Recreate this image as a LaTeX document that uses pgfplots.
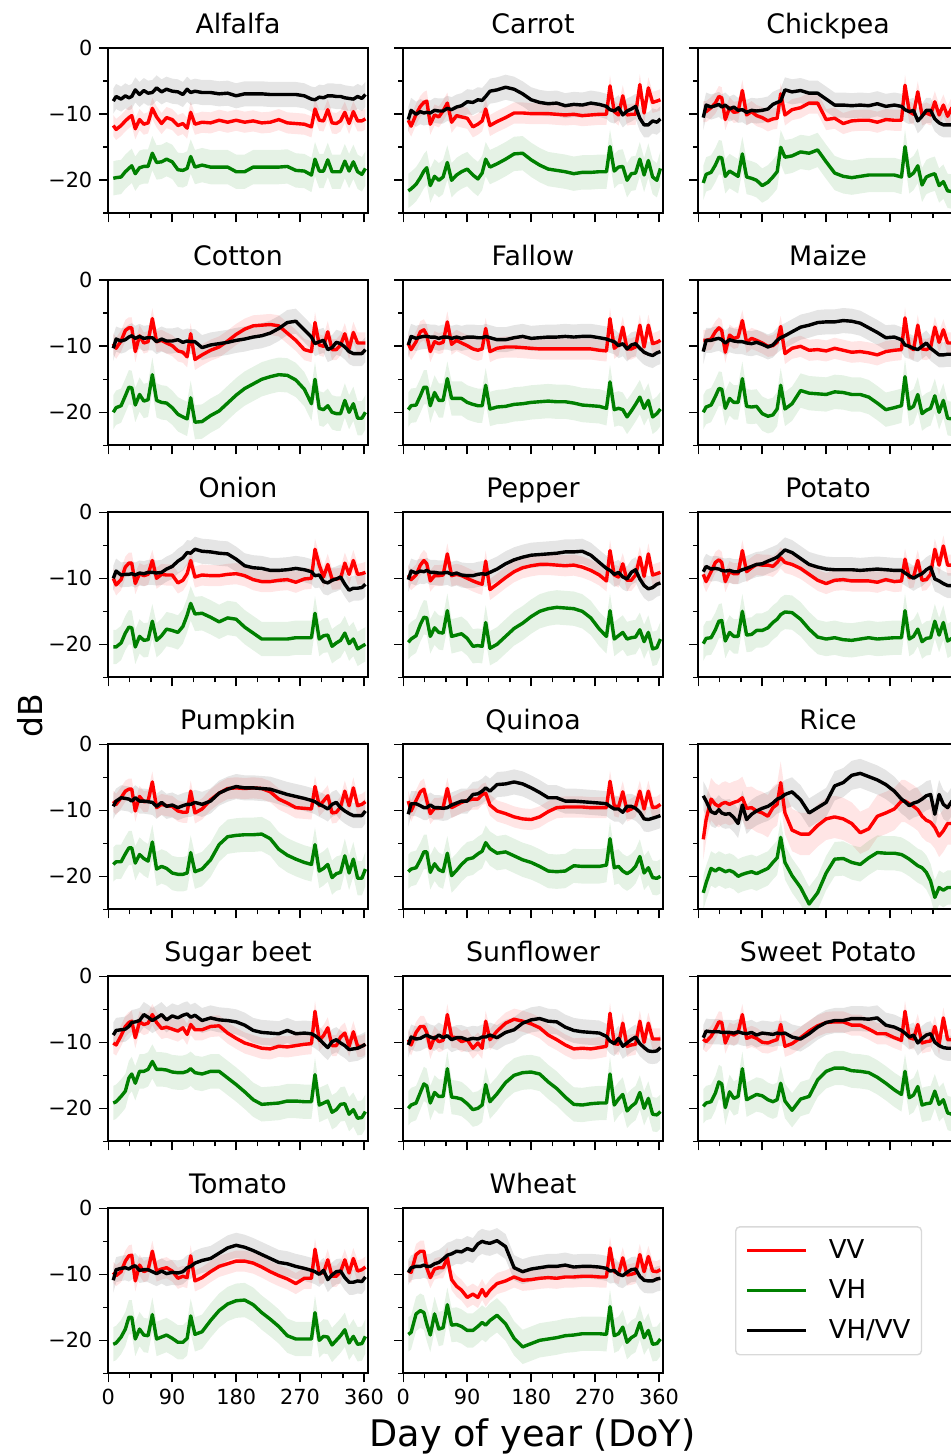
\documentclass[border=0pt]{standalone}
\usepackage{fontspec}
\setmainfont{DejaVu Sans}
\usepackage{pgfplots}
\pgfplotsset{compat=1.18}
\usepackage{pgfplotstable}
\usepgfplotslibrary{groupplots,fillbetween}
\definecolor{mplgreen}{rgb}{0,0.502,0}

\pgfplotstableread{
d vv vh r
7 -11.7 -19.7 -8.0
11 -12.3 -19.6 -7.3
18 -11.7 -19.5 -7.7
24 -11.0 -18.7 -7.2
29 -10.5 -18.2 -7.5
33 -10.2 -17.8 -7.3
38 -12.2 -19.0 -6.3
44 -10.8 -18.1 -7.0
50 -11.5 -17.9 -6.4
56 -11.3 -17.9 -6.8
62 -9.1 -15.9 -6.7
68 -10.4 -17.3 -6.0
75 -11.4 -17.2 -6.6
82 -10.5 -16.8 -6.2
90 -10.8 -17.2 -6.5
98 -11.7 -18.4 -6.6
105 -11.4 -18.5 -7.0
111 -12.1 -18.2 -6.2
116 -9.7 -16.4 -6.7
122 -11.5 -18.0 -6.5
132 -11.2 -17.7 -6.7
144 -11.3 -18.0 -6.7
156 -10.9 -18.0 -6.9
168 -11.2 -18.0 -6.8
180 -10.9 -18.7 -7.2
192 -11.2 -18.7 -6.9
204 -11.0 -18.0 -6.9
216 -11.3 -18.0 -6.9
228 -11.2 -18.0 -7.0
240 -10.8 -18.0 -7.0
252 -11.3 -17.9 -7.0
264 -11.4 -18.5 -7.0
276 -11.5 -18.6 -7.2
286 -11.9 -19.2 -7.7
291 -9.2 -16.8 -7.8
297 -10.9 -18.6 -7.4
303 -11.0 -18.6 -7.5
309 -9.3 -16.9 -7.2
315 -11.3 -18.7 -7.2
321 -11.4 -18.7 -7.3
327 -11.0 -18.7 -7.3
333 -9.7 -17.1 -7.5
339 -11.4 -18.6 -7.6
345 -9.6 -17.2 -7.7
351 -11.0 -18.7 -7.3
357 -11.0 -19.1 -7.6
362 -10.7 -18.2 -7.0
}\tabAlfalfa

\pgfplotstableread{
d vv vh r
7 -10.9 -21.6 -10.8
11 -11.8 -21.3 -9.4
18 -10.0 -20.6 -10.0
24 -8.8 -19.6 -9.6
29 -8.2 -18.6 -9.8
33 -8.0 -18.1 -9.7
38 -11.5 -20.8 -9.8
44 -10.1 -19.4 -9.4
50 -10.4 -20.0 -9.5
56 -9.5 -19.5 -9.5
62 -8.3 -17.3 -9.1
68 -11.2 -20.0 -9.3
75 -10.2 -19.2 -8.9
82 -10.4 -18.7 -8.7
90 -10.6 -18.3 -8.1
98 -11.9 -19.2 -8.2
105 -11.5 -19.8 -7.8
111 -11.0 -18.9 -7.9
116 -9.2 -16.8 -7.3
122 -11.7 -18.0 -6.5
132 -11.1 -17.5 -6.3
144 -10.5 -16.8 -5.9
156 -9.8 -16.0 -6.2
168 -9.8 -15.9 -6.9
180 -9.9 -16.9 -7.8
192 -9.9 -17.7 -8.2
204 -9.9 -18.3 -8.4
216 -10.0 -18.5 -8.3
228 -10.1 -18.7 -8.7
240 -10.0 -19.0 -8.5
252 -10.2 -18.8 -8.6
264 -10.1 -18.8 -8.3
276 -10.0 -18.7 -8.5
286 -10.0 -18.7 -8.8
291 -5.7 -14.9 -9.3
297 -9.6 -18.6 -9.5
303 -10.1 -18.0 -9.0
309 -7.2 -17.9 -10.1
315 -10.1 -20.0 -9.5
321 -10.0 -19.0 -9.2
327 -10.0 -18.9 -8.8
333 -5.5 -16.8 -10.6
339 -9.8 -19.2 -11.6
345 -6.0 -17.0 -11.6
351 -8.2 -19.5 -11.0
357 -8.0 -20.0 -11.2
362 -7.8 -18.2 -10.7
}\tabCarrot

\pgfplotstableread{
d vv vh r
7 -9.6 -20.4 -10.5
11 -9.6 -19.1 -8.6
18 -9.0 -18.8 -8.9
24 -8.3 -17.7 -8.7
29 -7.3 -16.5 -8.5
33 -7.5 -16.6 -8.9
38 -10.8 -19.4 -8.6
44 -9.0 -18.6 -9.2
50 -9.7 -19.0 -8.9
56 -9.6 -19.4 -9.4
62 -6.4 -16.0 -9.3
68 -10.1 -19.5 -9.7
75 -9.6 -19.7 -9.4
82 -10.2 -20.0 -9.5
90 -10.5 -20.8 -9.4
98 -11.0 -20.3 -9.2
105 -10.7 -19.5 -8.5
111 -10.6 -18.7 -8.2
116 -6.9 -15.0 -8.0
122 -10.1 -16.5 -6.3
132 -9.3 -16.3 -6.6
144 -9.0 -15.7 -6.4
156 -8.3 -15.9 -6.8
168 -8.3 -15.4 -6.8
180 -10.8 -17.2 -7.7
192 -10.6 -18.9 -8.6
204 -11.4 -19.4 -8.6
216 -11.0 -19.6 -8.7
228 -10.9 -19.4 -8.6
240 -10.9 -19.2 -8.7
252 -11.2 -19.2 -8.4
264 -10.8 -19.2 -8.8
276 -10.9 -19.2 -8.6
286 -10.9 -19.5 -8.8
291 -5.6 -14.9 -9.3
297 -9.6 -19.4 -9.6
303 -10.0 -18.9 -9.4
309 -6.6 -17.8 -11.0
315 -10.1 -20.7 -10.3
321 -9.8 -19.5 -9.4
327 -10.1 -19.2 -9.4
333 -8.1 -19.0 -10.7
339 -10.1 -20.8 -11.3
345 -8.6 -20.2 -11.6
351 -10.3 -21.6 -11.6
357 -9.0 -21.7 -11.6
362 -9.0 -21.7 -11.6
}\tabChickpea

\pgfplotstableread{
d vv vh r
7 -9.6 -20.0 -10.3
11 -10.3 -19.3 -8.9
18 -9.2 -19.0 -9.2
24 -7.6 -17.5 -9.0
29 -7.2 -16.2 -8.6
33 -7.2 -16.3 -8.4
38 -10.8 -18.9 -8.8
44 -8.4 -17.3 -8.5
50 -9.5 -18.3 -8.8
56 -9.3 -18.1 -8.7
62 -5.8 -14.3 -8.7
68 -9.3 -18.2 -9.3
75 -9.1 -18.5 -8.9
82 -9.5 -18.6 -9.2
90 -9.9 -19.3 -9.2
98 -10.7 -20.3 -9.0
105 -10.9 -20.7 -9.4
111 -11.6 -21.0 -9.2
116 -8.1 -17.8 -9.3
122 -12.0 -21.5 -9.3
132 -11.3 -21.4 -10.2
144 -10.6 -20.5 -9.8
156 -10.1 -19.8 -9.6
168 -9.2 -18.6 -9.4
180 -8.2 -17.4 -9.1
192 -7.4 -16.4 -8.9
204 -6.9 -15.7 -8.6
216 -6.8 -15.0 -8.4
228 -6.7 -14.6 -8.0
240 -6.9 -14.3 -7.3
252 -8.0 -14.4 -6.4
264 -9.1 -15.1 -6.2
276 -10.5 -16.5 -7.5
286 -10.8 -18.7 -8.6
291 -6.4 -15.0 -9.6
297 -9.8 -19.4 -9.3
303 -10.0 -19.6 -9.1
309 -7.8 -19.0 -10.5
315 -10.5 -20.0 -10.2
321 -10.5 -20.2 -9.4
327 -9.8 -20.2 -9.6
333 -8.1 -18.2 -10.1
339 -10.4 -20.0 -10.8
345 -7.9 -18.7 -11.1
351 -9.5 -20.9 -11.1
357 -9.5 -20.9 -11.1
362 -9.5 -20.0 -10.5
}\tabCotton

\pgfplotstableread{
d vv vh r
7 -9.6 -19.6 -9.8
11 -10.5 -19.0 -8.5
18 -9.3 -18.9 -8.8
24 -7.8 -17.5 -8.6
29 -7.5 -16.2 -8.5
33 -8.3 -16.2 -8.5
38 -10.8 -19.0 -8.6
44 -9.3 -17.0 -8.6
50 -9.6 -18.2 -8.8
56 -9.4 -18.2 -8.6
62 -6.3 -14.9 -8.6
68 -9.7 -17.9 -8.8
75 -9.1 -17.9 -8.6
82 -9.5 -17.9 -8.8
90 -9.9 -18.5 -8.6
98 -10.4 -18.8 -8.6
105 -10.6 -19.0 -8.7
111 -10.4 -19.0 -8.7
116 -7.3 -15.9 -8.5
122 -10.8 -19.5 -8.7
132 -10.3 -19.2 -9.0
144 -10.1 -19.1 -9.0
156 -10.1 -18.8 -8.7
168 -10.2 -18.7 -8.5
180 -10.3 -18.5 -8.8
192 -10.4 -18.4 -8.7
204 -10.4 -18.3 -8.6
216 -10.4 -18.4 -8.6
228 -10.4 -18.4 -8.5
240 -10.4 -18.6 -8.6
252 -10.4 -18.9 -8.5
264 -10.4 -19.0 -8.5
276 -10.6 -19.1 -8.7
286 -10.7 -19.4 -8.9
291 -5.8 -15.4 -9.1
297 -10.3 -19.6 -9.3
303 -9.8 -19.4 -9.9
309 -7.1 -19.6 -9.6
315 -10.4 -20.7 -10.4
321 -10.4 -19.8 -9.8
327 -10.1 -18.8 -9.6
333 -6.8 -17.7 -10.3
339 -10.1 -19.4 -10.9
345 -6.8 -18.2 -11.2
351 -9.6 -20.7 -11.4
357 -9.4 -20.2 -11.0
362 -9.1 -19.5 -10.8
}\tabFallow

\pgfplotstableread{
d vv vh r
7 -9.1 -20.0 -10.8
11 -9.1 -19.2 -9.1
18 -8.9 -18.9 -9.1
24 -7.8 -17.6 -8.9
29 -7.2 -16.4 -8.8
33 -7.6 -16.5 -9.0
38 -10.9 -19.4 -9.5
44 -8.3 -17.9 -9.0
50 -8.8 -18.5 -9.2
56 -8.6 -18.5 -9.3
62 -6.1 -14.9 -9.3
68 -9.4 -19.1 -9.5
75 -8.8 -19.2 -9.6
82 -9.1 -19.1 -9.4
90 -9.5 -20.2 -9.7
98 -10.0 -20.6 -10.1
105 -9.9 -20.4 -9.8
111 -9.4 -19.5 -9.1
116 -7.0 -15.9 -8.7
122 -11.1 -19.5 -8.4
132 -10.3 -18.7 -7.8
144 -10.0 -16.7 -7.1
156 -10.6 -17.1 -6.8
168 -10.5 -17.2 -6.4
180 -10.7 -17.3 -6.3
192 -10.3 -16.9 -6.3
204 -10.6 -17.0 -6.1
216 -10.9 -17.3 -6.2
228 -10.8 -17.3 -6.5
240 -11.0 -17.7 -7.2
252 -11.3 -18.6 -7.9
264 -10.8 -19.6 -8.7
276 -10.6 -19.3 -8.6
286 -10.5 -19.0 -9.0
291 -5.7 -14.6 -9.8
297 -10.1 -19.5 -10.0
303 -10.5 -19.1 -10.3
309 -6.8 -17.3 -10.5
315 -10.4 -20.2 -10.0
321 -10.5 -19.7 -9.5
327 -10.2 -19.4 -10.3
333 -7.1 -17.5 -10.8
339 -9.4 -20.0 -11.3
345 -7.5 -18.2 -11.3
351 -9.5 -20.9 -11.2
357 -9.5 -21.0 -11.2
362 -9.5 -21.0 -11.2
}\tabMaize

\pgfplotstableread{
d vv vh r
7 -10.0 -20.4 -10.0
11 -11.0 -20.4 -8.9
18 -10.2 -19.8 -9.5
24 -8.3 -18.3 -9.4
29 -7.7 -17.4 -9.4
33 -7.7 -17.5 -9.3
38 -10.8 -20.4 -9.5
44 -9.3 -18.8 -9.2
50 -9.6 -19.4 -9.3
56 -9.4 -19.3 -9.1
62 -7.3 -16.5 -9.1
68 -10.0 -19.4 -9.2
75 -9.4 -18.7 -9.1
82 -9.5 -17.7 -8.6
90 -9.5 -17.9 -8.2
98 -10.7 -18.2 -7.4
105 -10.3 -17.3 -6.9
111 -9.3 -15.6 -6.1
116 -7.3 -13.8 -6.2
122 -9.8 -15.4 -5.6
132 -9.5 -15.3 -5.9
144 -9.6 -15.9 -6.0
156 -9.6 -16.6 -6.2
168 -9.4 -16.0 -6.3
180 -9.3 -16.2 -7.1
192 -9.6 -17.4 -8.1
204 -10.2 -18.3 -8.4
216 -10.5 -19.2 -8.5
228 -10.5 -19.2 -8.8
240 -10.3 -19.2 -8.8
252 -10.2 -19.2 -8.7
264 -10.6 -19.0 -8.5
276 -10.1 -19.0 -8.7
286 -10.0 -19.0 -9.0
291 -5.6 -15.3 -9.6
297 -8.0 -19.2 -9.5
303 -9.8 -18.7 -10.5
309 -7.9 -18.6 -10.7
315 -10.1 -20.3 -10.3
321 -10.1 -19.8 -10.1
327 -10.0 -19.4 -9.8
333 -7.7 -18.3 -10.9
339 -9.4 -19.9 -11.8
345 -7.3 -19.2 -11.5
351 -9.4 -20.7 -11.5
357 -9.3 -20.3 -11.4
362 -9.1 -20.0 -10.9
}\tabOnion

\pgfplotstableread{
d vv vh r
7 -9.5 -19.7 -10.2
11 -10.2 -19.2 -8.9
18 -9.5 -18.7 -9.2
24 -8.0 -17.0 -8.9
29 -7.3 -15.9 -9.0
33 -7.8 -16.0 -8.8
38 -10.4 -18.8 -9.1
44 -9.6 -17.5 -9.1
50 -9.6 -18.2 -9.2
56 -9.5 -18.3 -9.2
62 -6.3 -14.9 -9.1
68 -9.6 -18.8 -9.4
75 -9.4 -18.6 -9.2
82 -9.6 -18.4 -9.5
90 -10.0 -19.1 -9.6
98 -10.4 -20.3 -9.6
105 -10.7 -20.2 -9.4
111 -10.9 -20.3 -9.3
116 -7.4 -16.7 -9.4
122 -11.7 -20.6 -9.1
132 -10.9 -20.0 -8.6
144 -9.9 -18.8 -7.8
156 -9.0 -17.6 -7.2
168 -8.4 -16.8 -6.8
180 -8.1 -15.8 -6.5
192 -7.9 -15.0 -6.4
204 -7.9 -14.6 -6.3
216 -8.0 -14.4 -6.2
228 -8.1 -14.5 -6.0
240 -8.0 -14.6 -6.0
252 -8.3 -15.0 -5.9
264 -8.8 -16.0 -6.5
276 -9.5 -17.7 -7.6
286 -10.4 -18.8 -8.5
291 -5.8 -14.9 -8.8
297 -9.5 -19.2 -9.4
303 -9.8 -18.7 -9.1
309 -7.8 -18.2 -9.8
315 -10.3 -19.2 -10.1
321 -10.3 -19.0 -9.1
327 -9.5 -18.9 -8.7
333 -6.8 -17.8 -10.1
339 -9.7 -19.6 -11.1
345 -6.3 -18.2 -11.6
351 -9.5 -20.7 -11.4
357 -9.3 -20.5 -10.9
362 -9.1 -19.2 -10.7
}\tabPepper

\pgfplotstableread{
d vv vh r
7 -9.4 -19.9 -9.0
11 -10.5 -19.1 -8.2
18 -9.0 -19.0 -8.6
24 -7.6 -17.8 -8.5
29 -7.2 -16.5 -8.6
33 -7.6 -16.4 -8.8
38 -10.5 -19.5 -8.9
44 -9.0 -18.2 -8.8
50 -9.3 -18.8 -9.0
56 -9.3 -18.8 -9.0
62 -5.8 -15.0 -8.7
68 -9.0 -18.6 -8.5
75 -8.4 -18.5 -8.2
82 -7.9 -17.9 -7.9
90 -8.0 -17.9 -7.8
98 -8.0 -17.5 -7.4
105 -8.2 -16.7 -7.1
111 -7.6 -16.2 -6.8
116 -6.9 -15.5 -6.3
122 -7.6 -15.1 -5.7
132 -7.9 -15.2 -6.1
144 -8.5 -16.2 -7.0
156 -9.4 -17.7 -7.9
168 -10.3 -18.9 -8.3
180 -10.8 -19.2 -8.6
192 -10.3 -19.0 -8.7
204 -10.2 -19.3 -8.7
216 -10.4 -19.4 -8.7
228 -10.4 -19.2 -8.8
240 -10.4 -19.0 -8.7
252 -10.6 -19.2 -8.6
264 -10.2 -19.1 -8.7
276 -10.5 -19.0 -8.8
286 -10.4 -19.0 -8.8
291 -7.1 -14.9 -9.2
297 -9.9 -19.2 -9.6
303 -9.8 -18.8 -10.0
309 -7.3 -17.7 -9.6
315 -10.3 -19.6 -9.3
321 -10.2 -19.1 -8.7
327 -9.4 -19.0 -8.3
333 -5.6 -16.5 -10.1
339 -8.0 -18.6 -10.4
345 -5.1 -16.7 -10.8
351 -8.0 -19.5 -11.1
357 -8.0 -19.1 -11.1
362 -8.0 -19.0 -11.1
}\tabPotato

\pgfplotstableread{
d vv vh r
7 -8.6 -18.2 -9.4
11 -9.1 -17.8 -8.6
18 -8.1 -17.8 -8.1
24 -7.1 -16.6 -8.2
29 -6.8 -15.7 -8.3
33 -6.8 -15.7 -8.6
38 -10.1 -18.0 -8.1
44 -7.9 -16.7 -8.6
50 -8.7 -17.3 -8.6
56 -8.6 -17.7 -8.7
62 -5.7 -14.8 -8.8
68 -9.6 -18.9 -9.4
75 -9.1 -18.5 -8.8
82 -9.3 -18.8 -9.4
90 -9.4 -19.5 -9.2
98 -10.1 -19.7 -9.6
105 -10.3 -19.7 -9.3
111 -10.3 -19.5 -9.1
116 -7.1 -16.4 -9.1
122 -10.4 -19.3 -8.8
132 -9.8 -18.9 -9.1
144 -8.4 -17.5 -8.6
156 -7.4 -15.2 -7.4
168 -6.7 -14.0 -6.8
180 -6.6 -13.8 -6.4
192 -6.7 -13.7 -6.6
204 -6.6 -13.7 -6.6
216 -6.7 -13.6 -6.7
228 -7.2 -14.3 -6.8
240 -8.3 -15.9 -7.2
252 -8.9 -16.8 -7.6
264 -9.6 -17.4 -7.9
276 -9.7 -17.9 -8.2
286 -9.8 -18.2 -8.5
291 -6.4 -15.2 -8.7
297 -9.3 -19.2 -9.1
303 -8.6 -18.8 -9.4
309 -7.8 -18.2 -9.8
315 -10.4 -20.2 -9.1
321 -10.3 -19.6 -8.8
327 -9.5 -19.4 -9.6
333 -7.1 -16.9 -10.1
339 -9.3 -19.5 -10.5
345 -6.6 -17.4 -10.8
351 -9.3 -20.3 -10.8
357 -9.1 -20.3 -10.8
362 -8.7 -18.9 -10.1
}\tabPumpkin

\pgfplotstableread{
d vv vh r
7 -8.6 -19.3 -10.6
11 -10.1 -18.9 -9.0
18 -8.5 -18.7 -9.0
24 -7.2 -17.5 -9.3
29 -6.8 -16.3 -9.6
33 -8.5 -16.3 -9.6
38 -10.5 -19.4 -9.2
44 -9.7 -18.1 -9.6
50 -9.7 -19.0 -9.6
56 -9.6 -19.3 -9.7
62 -6.7 -16.5 -9.6
68 -9.6 -19.9 -9.2
75 -9.2 -19.1 -8.9
82 -8.8 -18.2 -8.6
90 -8.5 -17.4 -8.6
98 -8.3 -17.2 -7.6
105 -8.3 -16.6 -7.5
111 -7.6 -16.2 -7.1
116 -7.4 -14.9 -6.6
122 -9.2 -15.8 -7.1
132 -10.1 -16.5 -6.1
144 -10.5 -16.3 -6.0
156 -11.0 -16.9 -5.7
168 -11.3 -17.5 -6.0
180 -11.4 -17.9 -6.6
192 -11.0 -18.5 -7.3
204 -10.2 -19.2 -8.1
216 -9.6 -19.3 -8.1
228 -9.5 -19.2 -8.6
240 -9.5 -18.4 -8.6
252 -9.5 -18.5 -8.7
264 -9.6 -18.5 -8.8
276 -9.6 -18.5 -8.9
286 -9.6 -18.3 -9.0
291 -5.6 -14.3 -9.4
297 -9.3 -18.7 -9.8
303 -9.5 -18.5 -9.8
309 -7.2 -19.2 -10.3
315 -10.1 -19.6 -9.4
321 -9.8 -19.2 -9.4
327 -9.4 -18.5 -9.7
333 -7.1 -17.0 -10.3
339 -9.8 -19.5 -11.3
345 -7.1 -18.7 -11.4
351 -9.6 -20.2 -11.2
357 -9.5 -20.3 -11.0
362 -9.1 -20.0 -10.8
}\tabQuinoa

\pgfplotstableread{
d vv vh r
7 -14.4 -22.5 -7.8
11 -11.4 -21.0 -8.6
18 -8.3 -18.8 -10.2
24 -9.1 -19.2 -10.5
29 -9.4 -18.8 -9.9
33 -9.0 -19.0 -10.4
38 -8.8 -19.3 -10.6
44 -9.1 -19.1 -10.5
50 -8.8 -19.4 -11.1
56 -8.6 -20.0 -12.0
62 -8.1 -19.7 -9.2
68 -9.7 -19.5 -11.4
75 -9.6 -19.3 -10.6
82 -10.1 -19.6 -10.1
90 -10.4 -19.2 -9.7
98 -10.9 -18.8 -9.4
105 -9.6 -17.9 -8.9
111 -9.1 -17.2 -8.3
116 -5.8 -14.1 -8.1
122 -10.4 -17.9 -7.6
132 -13.0 -19.9 -7.2
144 -13.6 -21.7 -8.4
156 -13.6 -24.2 -10.4
168 -12.3 -22.5 -9.6
180 -11.3 -19.5 -8.8
192 -11.0 -17.4 -6.3
204 -11.3 -17.3 -5.8
216 -12.0 -17.9 -4.7
228 -13.4 -18.2 -4.4
240 -12.8 -17.2 -4.9
252 -10.9 -16.4 -5.4
264 -10.4 -16.5 -6.1
276 -9.8 -16.5 -7.1
286 -8.6 -16.7 -8.3
291 -8.6 -17.0 -8.7
297 -9.0 -17.4 -9.3
303 -9.4 -17.9 -8.9
309 -9.9 -18.4 -8.7
315 -10.9 -18.7 -8.3
321 -11.5 -19.4 -7.8
327 -11.8 -20.7 -7.6
333 -12.6 -23.2 -10.6
339 -13.9 -21.7 -7.6
345 -13.1 -22.1 -9.1
351 -12.0 -21.7 -9.6
357 -12.0 -21.7 -8.6
362 -12.0 -21.7 -8.6
}\tabRice

\pgfplotstableread{
d vv vh r
7 -10.1 -19.2 -8.9
11 -10.4 -19.0 -8.2
18 -9.0 -18.2 -8.1
24 -7.6 -17.4 -8.0
29 -7.0 -15.4 -7.6
33 -6.8 -14.8 -7.0
38 -9.3 -16.2 -6.9
44 -6.9 -14.4 -6.7
50 -7.3 -14.4 -5.8
56 -7.1 -14.1 -6.2
62 -5.8 -12.9 -6.7
68 -7.0 -14.1 -6.3
75 -7.9 -14.1 -5.8
82 -7.7 -14.2 -6.6
90 -8.0 -14.5 -6.0
98 -8.3 -14.6 -6.3
105 -7.8 -14.6 -5.9
111 -8.8 -14.4 -5.7
116 -7.3 -14.0 -6.2
122 -8.1 -14.6 -5.9
132 -8.1 -14.8 -6.7
144 -7.6 -14.4 -6.3
156 -7.5 -14.4 -6.6
168 -8.6 -15.4 -6.7
180 -9.4 -16.4 -6.9
192 -10.1 -17.5 -7.4
204 -10.5 -18.7 -8.2
216 -10.9 -19.4 -8.5
228 -11.0 -19.3 -8.6
240 -10.6 -19.2 -8.7
252 -10.7 -18.9 -8.2
264 -10.5 -18.9 -8.7
276 -10.3 -19.0 -8.6
286 -10.2 -19.0 -8.7
291 -5.3 -14.9 -9.0
297 -9.7 -19.5 -9.5
303 -9.0 -19.2 -10.2
309 -7.8 -18.9 -10.8
315 -10.5 -20.6 -9.9
321 -10.5 -20.2 -9.6
327 -9.2 -19.4 -10.1
333 -8.6 -19.3 -10.5
339 -10.6 -20.9 -11.1
345 -8.4 -20.2 -11.0
351 -10.6 -21.5 -10.9
357 -10.6 -21.4 -10.6
362 -10.3 -20.5 -10.3
}\tabSugarbeet

\pgfplotstableread{
d vv vh r
7 -9.6 -20.0 -10.4
11 -10.4 -19.5 -9.2
18 -8.5 -19.2 -9.5
24 -7.6 -17.6 -9.4
29 -7.6 -16.3 -9.1
33 -8.5 -16.6 -8.9
38 -10.9 -19.2 -9.2
44 -9.2 -17.6 -9.4
50 -9.9 -18.2 -8.9
56 -9.7 -18.2 -9.3
62 -5.8 -14.0 -9.0
68 -9.2 -18.3 -9.6
75 -9.3 -18.4 -9.3
82 -9.9 -18.6 -9.3
90 -9.6 -19.3 -9.6
98 -10.9 -20.2 -9.4
105 -10.1 -20.0 -9.5
111 -10.9 -19.5 -9.2
116 -6.8 -16.4 -9.2
122 -9.6 -19.0 -8.9
132 -8.3 -17.8 -9.3
144 -7.1 -16.1 -8.5
156 -6.5 -15.0 -8.1
168 -6.8 -14.6 -7.1
180 -7.2 -14.5 -6.6
192 -7.8 -14.8 -6.4
204 -8.9 -16.0 -6.8
216 -9.6 -17.0 -6.9
228 -10.4 -18.3 -7.7
240 -11.0 -19.4 -8.2
252 -10.9 -19.5 -8.4
264 -11.0 -19.3 -8.5
276 -10.8 -19.2 -8.6
286 -10.6 -19.2 -9.1
291 -5.6 -14.8 -9.8
297 -10.2 -19.5 -10.2
303 -10.3 -18.6 -9.4
309 -7.1 -17.9 -10.6
315 -10.6 -20.4 -10.1
321 -10.4 -19.7 -9.6
327 -10.3 -19.2 -9.2
333 -6.8 -17.6 -10.2
339 -10.0 -20.0 -10.8
345 -7.1 -18.5 -11.3
351 -9.5 -20.9 -11.4
357 -9.5 -21.0 -11.3
362 -9.5 -20.5 -10.8
}\tabSunflower

\pgfplotstableread{
d vv vh r
7 -9.5 -19.7 -9.3
11 -9.9 -19.2 -8.3
18 -9.1 -19.0 -8.4
24 -8.0 -17.7 -8.4
29 -6.9 -16.0 -8.4
33 -7.0 -16.3 -8.5
38 -10.1 -19.9 -8.5
44 -8.6 -17.5 -8.5
50 -8.9 -18.5 -8.6
56 -8.5 -18.2 -8.4
62 -5.8 -14.0 -8.6
68 -9.4 -18.7 -8.7
75 -9.1 -18.3 -8.5
82 -9.4 -17.9 -8.9
90 -10.0 -18.1 -8.6
98 -10.1 -18.7 -8.7
105 -9.8 -19.0 -8.8
111 -9.6 -18.7 -8.6
116 -7.3 -16.2 -8.7
122 -10.6 -18.9 -8.6
132 -10.2 -20.3 -9.2
144 -9.3 -18.6 -9.5
156 -8.3 -18.2 -8.7
168 -7.5 -15.7 -7.7
180 -7.0 -14.4 -7.0
192 -6.9 -13.9 -6.7
204 -6.9 -13.9 -6.7
216 -7.4 -14.3 -6.4
228 -7.4 -14.4 -6.4
240 -8.0 -14.6 -6.5
252 -8.7 -15.3 -6.3
264 -8.7 -16.2 -7.4
276 -9.3 -17.2 -7.7
286 -9.7 -17.9 -8.2
291 -5.3 -14.4 -8.6
297 -9.3 -18.4 -9.2
303 -9.5 -18.0 -8.9
309 -7.3 -16.7 -10.1
315 -10.1 -19.5 -9.4
321 -9.9 -19.3 -8.9
327 -9.8 -19.2 -8.7
333 -7.6 -17.4 -10.0
339 -10.3 -19.4 -10.5
345 -6.3 -18.7 -10.8
351 -9.6 -20.7 -10.9
357 -9.6 -20.9 -10.9
362 -9.6 -20.9 -10.9
}\tabSweetpotato

\pgfplotstableread{
d vv vh r
7 -9.7 -20.6 -10.9
11 -10.2 -20.4 -9.3
18 -9.6 -19.5 -9.1
24 -8.0 -18.3 -9.0
29 -7.2 -16.5 -9.2
33 -7.1 -16.5 -8.9
38 -11.0 -19.8 -8.7
44 -8.6 -18.3 -9.4
50 -9.6 -19.2 -9.3
56 -9.3 -19.3 -9.3
62 -6.5 -16.1 -9.6
68 -9.5 -19.8 -9.9
75 -9.2 -19.5 -9.5
82 -9.0 -19.2 -9.9
90 -9.5 -19.7 -9.7
98 -10.6 -20.3 -9.8
105 -10.3 -20.3 -9.6
111 -10.5 -19.7 -9.0
116 -7.2 -16.3 -8.8
122 -11.0 -19.1 -8.3
132 -10.5 -18.7 -7.9
144 -9.6 -17.0 -7.6
156 -8.8 -15.5 -6.8
168 -8.4 -14.5 -6.0
180 -8.0 -14.0 -5.6
192 -8.0 -13.9 -5.9
204 -8.3 -14.6 -6.4
216 -8.9 -15.8 -7.0
228 -9.6 -16.8 -7.6
240 -10.2 -17.9 -8.2
252 -10.7 -19.3 -8.4
264 -11.4 -19.8 -8.8
276 -10.6 -19.8 -9.1
286 -10.6 -19.8 -9.4
291 -6.2 -15.8 -9.6
297 -9.8 -20.0 -10.0
303 -9.8 -19.4 -9.4
309 -7.8 -19.5 -10.8
315 -10.3 -20.7 -10.1
321 -10.3 -20.0 -9.6
327 -9.6 -19.3 -9.5
333 -7.8 -18.4 -10.5
339 -9.8 -20.4 -11.2
345 -7.6 -19.4 -11.2
351 -9.5 -20.6 -11.0
357 -9.3 -20.5 -11.1
362 -8.9 -19.4 -10.4
}\tabTomato

\pgfplotstableread{
d vv vh r
7 -9.5 -19.1 -9.7
11 -9.7 -18.8 -9.0
18 -7.0 -16.0 -8.8
24 -6.5 -15.5 -8.8
29 -6.5 -15.8 -8.6
33 -9.0 -17.5 -8.8
38 -10.5 -19.2 -8.8
44 -9.2 -16.0 -8.4
50 -9.0 -18.3 -8.2
56 -9.0 -18.1 -7.7
62 -7.5 -14.6 -7.1
68 -10.8 -17.7 -6.9
75 -11.8 -17.6 -6.5
82 -12.4 -17.9 -6.6
90 -13.5 -18.5 -6.1
98 -13.0 -18.5 -6.4
105 -13.5 -17.9 -5.4
111 -12.3 -17.3 -5.0
116 -13.3 -17.7 -5.2
122 -12.4 -17.0 -5.3
132 -11.4 -16.2 -4.9
144 -11.0 -17.5 -5.8
156 -10.4 -19.7 -9.0
168 -10.9 -21.0 -9.6
180 -10.8 -20.5 -9.2
192 -10.6 -20.0 -9.0
204 -10.5 -19.8 -8.8
216 -10.6 -19.6 -8.8
228 -10.4 -19.3 -8.6
240 -10.4 -19.2 -8.9
252 -10.3 -19.0 -8.8
264 -10.3 -19.0 -8.8
276 -10.4 -19.0 -8.9
286 -10.4 -19.1 -9.1
291 -6.0 -14.9 -9.5
297 -9.6 -19.3 -9.4
303 -9.9 -19.0 -10.0
309 -7.5 -18.0 -10.2
315 -10.1 -20.3 -9.7
321 -10.0 -19.6 -9.3
327 -9.8 -19.2 -9.2
333 -7.0 -17.3 -10.3
339 -9.6 -19.6 -10.9
345 -7.3 -18.5 -11.0
351 -9.5 -20.6 -11.0
357 -9.6 -20.5 -10.7
362 -9.3 -19.8 -10.6
}\tabWheat

% band: table, column, half width, colour
\newcommand{\band}[4]{%
  \addplot[draw=none, forget plot, name path=U#2] table[x=d, y expr=\thisrow{#2}+#3] {#1};
  \addplot[draw=none, forget plot, name path=L#2] table[x=d, y expr=\thisrow{#2}-#3] {#1};
  \addplot[fill=#4, fill opacity=0.1, draw=none, forget plot] fill between[of=U#2 and L#2];
}
\newcommand{\cropplot}[6][]{%
  \nextgroupplot[title={#2},#1]
  \band{#3}{vv}{#4}{red}
  \band{#3}{vh}{#5}{mplgreen}
  \band{#3}{r}{#6}{black}
  \addplot[red, line width=1.7pt] table[x=d, y=vv] {#3};
  \addplot[mplgreen, line width=1.7pt] table[x=d, y=vh] {#3};
  \addplot[black, line width=1.7pt] table[x=d, y=r] {#3};
}

\begin{document}
\begin{tikzpicture}
\begin{groupplot}[
  group style={group name=my plots, group size=3 by 6, horizontal sep=17.8pt, vertical sep=33.5pt},
  scale only axis, width=129.7pt, height=82.5pt,
  xmin=0, xmax=365.2, ymin=-25, ymax=0,
  xtick={0,90,180,270,360}, minor xtick={30,60,120,150,210,240,300,330},
  ytick={-20,-10,0}, minor ytick={-25,-15,-5},
  xticklabels={}, yticklabels={},
  tick align=outside, tick pos=left,
  major tick length=4.5pt, minor tick length=2.5pt,
  tick style={black, line width=0.8pt},
  axis line style={line width=1pt},
  tick label style={font=\fontsize{10.4}{12}\selectfont},
  title style={font=\fontsize{13.4}{16}\selectfont, at={(0.5,1)}, anchor=base, yshift=1.3pt},
  every axis plot/.append style={line join=round},
]
\cropplot[yticklabels={−20,−10,0}]{Alfalfa}{\tabAlfalfa}{1.6}{2.6}{1.9}
\cropplot{Carrot}{\tabCarrot}{1.6}{2.6}{1.9}
\cropplot{Chickpea}{\tabChickpea}{1.6}{2.6}{1.9}
\cropplot[yticklabels={−20,−10,0}]{Cotton}{\tabCotton}{1.6}{2.6}{1.9}
\cropplot{Fallow}{\tabFallow}{1.6}{2.6}{1.9}
\cropplot{Maize}{\tabMaize}{1.6}{2.6}{1.9}
\cropplot[yticklabels={−20,−10,0}]{Onion}{\tabOnion}{1.6}{2.6}{1.9}
\cropplot{Pepper}{\tabPepper}{1.6}{2.6}{1.9}
\cropplot{Potato}{\tabPotato}{1.6}{2.6}{1.9}
\cropplot[yticklabels={−20,−10,0}]{Pumpkin}{\tabPumpkin}{1.6}{2.6}{1.9}
\cropplot{Quinoa}{\tabQuinoa}{1.6}{2.6}{1.9}
\cropplot{Rice}{\tabRice}{3.2}{2.6}{2.2}
\cropplot[yticklabels={−20,−10,0}]{Sugar beet}{\tabSugarbeet}{1.6}{2.6}{1.9}
\cropplot{Sunflower}{\tabSunflower}{1.6}{2.6}{1.9}
\cropplot{Sweet Potato}{\tabSweetpotato}{1.6}{2.6}{1.9}
\cropplot[yticklabels={−20,−10,0}, xticklabels={0,90,180,270,360}]{Tomato}{\tabTomato}{1.6}{2.6}{1.9}
\cropplot[xticklabels={0,90,180,270,360},
  legend style={at={(1.279,0.5)}, anchor=west, draw=black!15, line width=0.7pt, rounded corners=2pt,
    font=\fontsize{13}{16}\selectfont, inner xsep=5pt, inner ysep=6pt, row sep=8pt, column sep=10pt,
    nodes={inner sep=0.5pt}},
  legend cell align=left,
  legend image code/.code={\draw[#1, line width=1.5pt] (0pt,0pt) -- (29.5pt,0pt);}
]{Wheat}{\tabWheat}{1.6}{2.6}{1.9}
\legend{VV,VH,VH/VV}
\end{groupplot}
\node[anchor=base, font=\fontsize{18.3}{22}\selectfont] at ([shift={(212.1pt,-698.9pt)}]my plots c1r1.north west) {Day of year (DoY)};
\node[rotate=90, font=\fontsize{16.5}{20}\selectfont] at ([shift={(-39.2pt,-333.9pt)}]my plots c1r1.north west) {dB};
\pgfresetboundingbox
\path[use as bounding box] ([shift={(-54.15pt,24.15pt)}]my plots c1r1.north west) rectangle ([shift={(420.85pt,-703.35pt)}]my plots c1r1.north west);
\end{tikzpicture}
\end{document}
